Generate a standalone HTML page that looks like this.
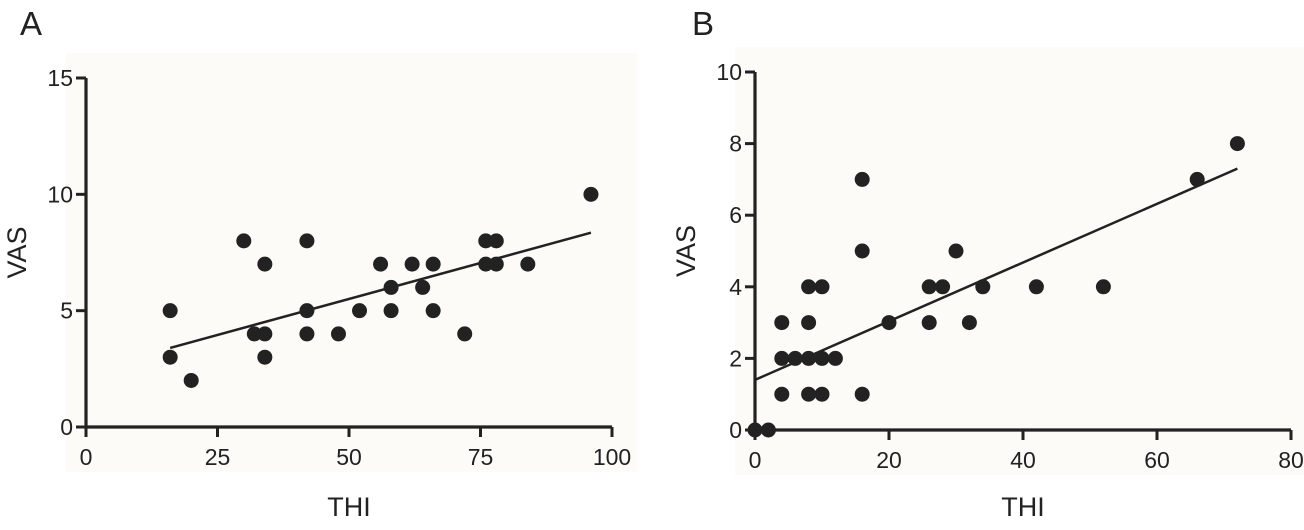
<!DOCTYPE html>
<html><head><meta charset="utf-8"><style>
body{margin:0;background:#fff;}
svg text{font-family:"Liberation Sans",sans-serif;fill:#222;}
</style></head><body>
<svg id="chart" width="1304" height="525"></svg>
<script>
const aThi=[16,16,20,30,32,34,34,34,42,42,42,48,52,56,58,58,62,64,66,66,72,76,78,76,78,84,96];
const aVas=[5,3,2,8,4,4,7,3,8,5,4,4,5,7,6,5,7,6,7,5,4,8,8,7,7,7,10];
const aXTicks=[0,25,50,75,100];
const aYTicks=[0,5,10,15];
const aFit=[[16,3.4],[96,8.35]];
const bThi=[0,2,4,4,4,6,8,8,8,8,10,10,10,12,16,16,16,20,26,26,28,30,32,34,42,52,66,72];
const bVas=[0,0,3,2,1,2,4,3,2,1,4,2,1,2,7,5,1,3,4,3,4,5,3,4,4,4,7,8];
const bXTicks=[0,20,40,60,80];
const bYTicks=[0,2,4,6,8,10];
const bFit=[[0,1.4],[72,7.3]];
const NS='http://www.w3.org/2000/svg';
const svg=document.getElementById('chart');
function mk(tag,attrs,parent){const e=document.createElementNS(NS,tag);for(const k in attrs)e.setAttribute(k,attrs[k]);(parent||svg).appendChild(e);return e;}
function panel(p){
  const g=mk('g',{});
  
  
  const sx=v=>p.x0+(v-p.xmin)/(p.xmax-p.xmin)*(p.x1-p.x0);
  const sy=v=>p.y0-(v-p.ymin)/(p.ymax-p.ymin)*(p.y0-p.y1);
  const bg=mk('rect',{x:p.x0-20,y:p.y1-25,width:p.x1-p.x0+45,height:p.y0-p.y1+70,fill:'#fcfbf7'},g);
  
  
  const ax=mk('path',{d:`M${p.x0} ${sy(p.ymax)} V${p.y0} H${p.x1}`,stroke:'#222','stroke-width':3.2,fill:'none'},g);
  
  
  p.xt.forEach(t=>{
    mk('line',{x1:sx(t),x2:sx(t),y1:p.y0,y2:p.y0+10,stroke:'#222','stroke-width':3},g);
    const tx=mk('text',{x:sx(t),y:p.y0+38,'font-size':23,'text-anchor':'middle'},g);
    tx.textContent=t;
    
    
  });
  p.yt.forEach(t=>{
    mk('line',{x1:p.x0-10,x2:p.x0,y1:sy(t),y2:sy(t),stroke:'#222','stroke-width':3},g);
    const tx=mk('text',{x:p.x0-13,y:sy(t)+8,'font-size':23,'text-anchor':'end'},g);
    tx.textContent=t;
    
    
  });
  const fl=mk('line',{x1:sx(p.fit[0][0]),y1:sy(p.fit[0][1]),x2:sx(p.fit[1][0]),y2:sy(p.fit[1][1]),stroke:'#222','stroke-width':2.5},g);
  
  
  p.xs.forEach((v,i)=>{
    const c=mk('circle',{cx:sx(v),cy:sy(p.ys[i]),r:7.5,fill:'#222'},g);
    
    
  });
  const xl=mk('text',{x:(p.x0+p.x1)/2,y:516,'font-size':27,'text-anchor':'middle'},g);
  xl.textContent='THI';
  
  
  const yl=mk('text',{x:0,y:0,'font-size':27,'text-anchor':'middle',transform:`translate(${p.x0-60},${(p.y0+sy(p.ymax))/2}) rotate(-90)`},g);
  yl.textContent='VAS';
  
  
  const pl=mk('text',{x:p.lx,y:35,'font-size':33},g);
  pl.textContent=p.label;
  
  
}
panel({name:'panel-a',label:'A',lx:20,x0:86,x1:612,xmin:0,xmax:100,y0:427,y1:78,ymin:0,ymax:15,xt:aXTicks,yt:aYTicks,xs:aThi,ys:aVas,fit:aFit});
panel({name:'panel-b',label:'B',lx:692,x0:755,x1:1291,xmin:0,xmax:80,y0:430,y1:72,ymin:0,ymax:10,xt:bXTicks,yt:bYTicks,xs:bThi,ys:bVas,fit:bFit});
</script>
</body></html>
